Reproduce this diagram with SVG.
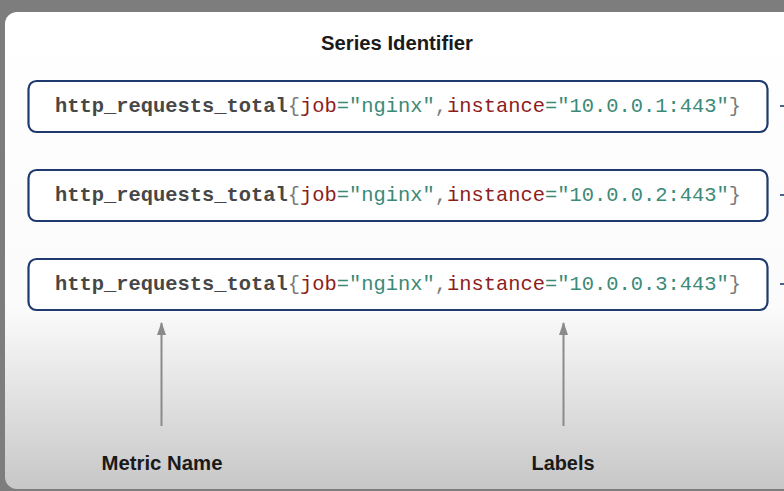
<svg xmlns="http://www.w3.org/2000/svg" width="784" height="491" viewBox="0 0 784 491">
<defs>
<linearGradient id="bg" x1="0" y1="12" x2="0" y2="489" gradientUnits="userSpaceOnUse">
<stop offset="0" stop-color="#ffffff"/>
<stop offset="0.62" stop-color="#fbfbfb"/>
<stop offset="1" stop-color="#c7c7c7"/>
</linearGradient>
<marker id="ah" viewBox="0 0 13 9" refX="12" refY="4.5" markerWidth="13" markerHeight="9" orient="auto" markerUnits="userSpaceOnUse">
<path d="M0,0 L13,4.5 L0,9 z" fill="#8a8a8a"/>
</marker>
<style>
.box{fill:#ffffff;stroke:#1f3a6e;stroke-width:2.2}
.code{font-family:"Liberation Mono","DejaVu Sans Mono",monospace;font-size:20.4px}
.mn{fill:#474747;font-weight:bold}
.br{fill:#7a7a7a}
.ln{fill:#8f1c1c}
.lv{fill:#3b8a78}
.lbl{font-family:"Liberation Sans","Arial",sans-serif;font-weight:bold;fill:#1a1a1a;text-anchor:middle}
.arr{stroke:#8a8a8a;stroke-width:2;fill:none}
.tick{stroke:#1f3a6e;stroke-width:1.6}
</style>
</defs>
<rect x="0" y="0" width="784" height="491" fill="#7d7d7d"/>
<rect x="5" y="12" width="800" height="477" rx="12" fill="url(#bg)"/>
<text class="lbl" x="397" y="50" font-size="19.5" textLength="152" lengthAdjust="spacingAndGlyphs">Series Identifier</text>
<g id="series1">
<rect class="box" x="28.5" y="81" width="739" height="51" rx="8"/>
<text class="code" x="55" y="112" textLength="686" lengthAdjust="spacingAndGlyphs"><tspan class="mn">http_requests_total</tspan><tspan class="br">{</tspan><tspan class="ln">job</tspan><tspan class="lv">="nginx"</tspan><tspan class="br">,</tspan><tspan class="ln">instance</tspan><tspan class="lv">="10.0.0.1:443"</tspan><tspan class="br">}</tspan></text>
</g>
<g id="series2">
<rect class="box" x="28.5" y="170" width="739" height="51" rx="8"/>
<text class="code" x="55" y="201" textLength="686" lengthAdjust="spacingAndGlyphs"><tspan class="mn">http_requests_total</tspan><tspan class="br">{</tspan><tspan class="ln">job</tspan><tspan class="lv">="nginx"</tspan><tspan class="br">,</tspan><tspan class="ln">instance</tspan><tspan class="lv">="10.0.0.2:443"</tspan><tspan class="br">}</tspan></text>
</g>
<g id="series3">
<rect class="box" x="28.5" y="259" width="739" height="51" rx="8"/>
<text class="code" x="55" y="290" textLength="686" lengthAdjust="spacingAndGlyphs"><tspan class="mn">http_requests_total</tspan><tspan class="br">{</tspan><tspan class="ln">job</tspan><tspan class="lv">="nginx"</tspan><tspan class="br">,</tspan><tspan class="ln">instance</tspan><tspan class="lv">="10.0.0.3:443"</tspan><tspan class="br">}</tspan></text>
</g>
<g id="metric-name">
<text class="lbl" x="162" y="470" font-size="19.5" textLength="121" lengthAdjust="spacingAndGlyphs">Metric Name</text>
</g>
<g id="labels">
<text class="lbl" x="563" y="470" font-size="19.5" textLength="63" lengthAdjust="spacingAndGlyphs">Labels</text>
</g>
<g id="connectors">
<line class="arr" x1="161.5" y1="426" x2="161.5" y2="323" marker-end="url(#ah)"/>
<line class="arr" x1="563.5" y1="426" x2="563.5" y2="323" marker-end="url(#ah)"/>
<line class="tick" x1="780" y1="106" x2="784" y2="106"/>
<line class="tick" x1="780" y1="195" x2="784" y2="195"/>
<line class="tick" x1="780" y1="284" x2="784" y2="284"/>
</g>
</svg>
